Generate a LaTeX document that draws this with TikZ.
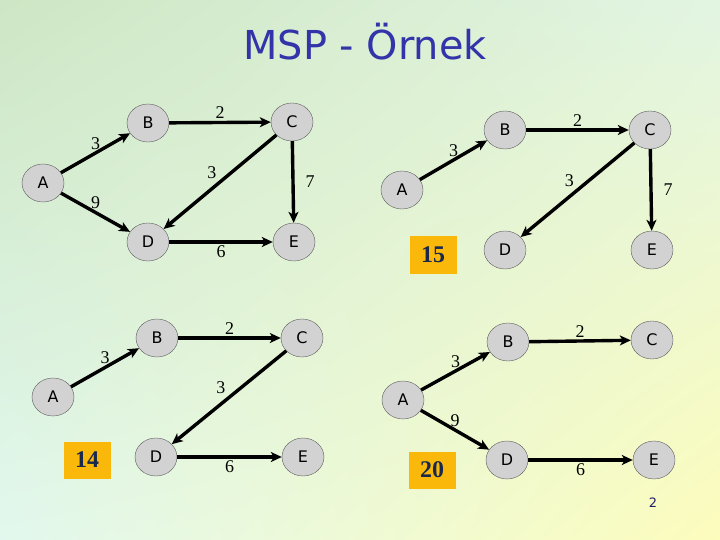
\documentclass[tikz,border=0pt]{standalone}
\usepackage{fontspec}
\setmainfont{Liberation Serif}
\setsansfont{DejaVu Sans}
\usetikzlibrary{arrows.meta, shapes.geometric, shadings}
\definecolor{titleblue}{RGB}{51,51,170}
\definecolor{boxgold}{RGB}{250,185,10}
\definecolor{boxtext}{RGB}{25,40,75}
\definecolor{bgul}{RGB}{206,230,196}
\definecolor{bgur}{RGB}{226,245,226}
\definecolor{bgll}{RGB}{226,248,238}
\definecolor{bglr}{RGB}{252,252,188}

\begin{document}
\begin{tikzpicture}[
    x=1bp, y=-1bp,
    vertex/.style={ellipse, draw=gray!70!black, fill=gray!35, minimum width=42bp, minimum height=38bp, inner sep=0pt, font=\sffamily\fontsize{16}{16}\selectfont},
    wt/.style={font=\fontsize{18}{18}\selectfont, inner sep=2bp},
    total/.style={fill=boxgold, minimum width=47bp, minimum height=37bp, inner sep=0pt, text=boxtext, font=\bfseries\fontsize{24}{24}\selectfont},
    arrow/.style={-{Stealth[length=11bp, width=10bp, inset=3bp]}, line width=3.4bp}
]
    % background
    \shade[upper left=bgul, upper right=bgur, lower left=bgll, lower right=bglr] (0,0) rectangle (720,540);
    \useasboundingbox (0,0) rectangle (720,540);

    \node[font=\sffamily\fontsize{40}{40}\selectfont, text=titleblue] (title) at (365,42) {MSP - Örnek};

    % full graph
    \node[vertex] (a1) at (43,183) {A};
    \node[vertex] (b1) at (148,123) {B};
    \node[vertex] (c1) at (292,122) {C};
    \node[vertex] (d1) at (148,242) {D};
    \node[vertex] (e1) at (294,242) {E};

    \draw[arrow] (a1) -- node[wt, above] {3} (b1);
    \draw[arrow] (a1) -- node[wt, above] {9} (d1);
    \draw[arrow] (b1) -- node[wt, above] {2} (c1);
    \draw[arrow] (c1) -- node[wt, above left] {3} (d1);
    \draw[arrow] (c1) -- node[wt, right=9bp] {7} (e1);
    \draw[arrow] (d1) -- node[wt, below] {6} (e1);

    % tree 15
    \node[vertex] (a2) at (402,190) {A};
    \node[vertex] (b2) at (505,130) {B};
    \node[vertex] (c2) at (650,130) {C};
    \node[vertex] (d2) at (505,250) {D};
    \node[vertex] (e2) at (652,250) {E};
    \node[total] (t2) at (433,255) {15};

    \draw[arrow] (a2) -- node[wt, above] {3} (b2);
    \draw[arrow] (b2) -- node[wt, above] {2} (c2);
    \draw[arrow] (c2) -- node[wt, above left] {3} (d2);
    \draw[arrow] (c2) -- node[wt, right=9bp] {7} (e2);

    % tree 14
    \node[vertex] (a3) at (53,397) {A};
    \node[vertex] (b3) at (157,338) {B};
    \node[vertex] (c3) at (302,338) {C};
    \node[vertex] (d3) at (156,457) {D};
    \node[vertex] (e3) at (303,457) {E};
    \node[total] (t3) at (87,460) {14};

    \draw[arrow] (a3) -- node[wt, above] {3} (b3);
    \draw[arrow] (b3) -- node[wt, above] {2} (c3);
    \draw[arrow] (c3) -- node[wt, above left] {3} (d3);
    \draw[arrow] (d3) -- node[wt, below] {6} (e3);

    % tree 20
    \node[vertex] (a4) at (403,400) {A};
    \node[vertex] (b4) at (508,342) {B};
    \node[vertex] (c4) at (652,340) {C};
    \node[vertex] (d4) at (507,460) {D};
    \node[vertex] (e4) at (654,460) {E};
    \node[total] (t4) at (432,470) {20};

    \draw[arrow] (a4) -- node[wt, above] {3} (b4);
    \draw[arrow] (a4) -- node[wt, above] {9} (d4);
    \draw[arrow] (b4) -- node[wt, above] {2} (c4);
    \draw[arrow] (d4) -- node[wt, below] {6} (e4);

    \node[font=\sffamily\fontsize{13}{13}\selectfont, text=titleblue!60!black] (pagenum) at (653,503) {2};
\end{tikzpicture}
\end{document}
